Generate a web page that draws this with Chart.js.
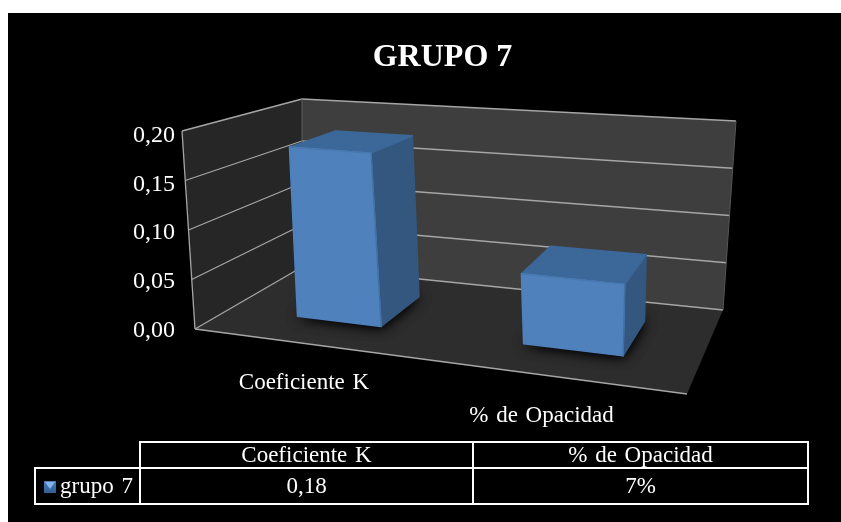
<!DOCTYPE html>
<html><head><meta charset="utf-8">
<style>html,body{margin:0;padding:0;background:#fff;overflow:hidden}canvas{display:block}</style>
<script src="https://cdn.jsdelivr.net/npm/chart.js@4/dist/chart.umd.js"></script>
</head><body><div style="width:841px;height:522px"><canvas id="c" width="841" height="522"></canvas></div>
<script>
const titleText = "GRUPO 7";
const categories = ["Coeficiente K", "% de Opacidad"];
const seriesName = "grupo 7";
const seriesValues = [0.18, 0.07];
const tableValues = ["0,18", "7%"];
const yTicks = [0, 0.05, 0.10, 0.15, 0.20];

const FONT = '"Liberation Serif"';
// perspective box of the 3D chart
const floorQuad = [[195,329],[687,394],[723,310],[302,267]];
const topQuad   = [[182,131],[700,172],[736,121],[302,99]];
const barTopQuad = [[187,135],[706,176],[736,125],[302,103]];
const W_FRONT = 0.30, W_BACK = 0.74, U_SHIFT = 0.012;

function quadMap(q){
  const [[x0,y0],[x1,y1],[x2,y2],[x3,y3]] = q;
  const dx1=x1-x2, dx2=x3-x2, sx=x0-x1+x2-x3, dy1=y1-y2, dy2=y3-y2, sy=y0-y1+y2-y3;
  const den=dx1*dy2-dx2*dy1, g=(sx*dy2-dx2*sy)/den, h=(dx1*sy-sx*dy1)/den;
  const a=x1-x0+g*x1, b=x3-x0+h*x3, d=y1-y0+g*y1, e=y3-y0+h*y3;
  return (u,w)=>{const k=g*u+h*w+1;return [(a*u+b*w+x0)/k,(d*u+e*w+y0)/k];};
}
const mapFloor = quadMap(floorQuad), mapTop = quadMap(topQuad), mapBarTop = quadMap(barTopQuad);
function mix(a,b,v){return [a[0]+(b[0]-a[0])*v,a[1]+(b[1]-a[1])*v];}
function proj(u,v,w){return mix(mapFloor(u,w),mapTop(u,w),v);}
function projBar(u,v,w){return mix(mapFloor(u,w),mapBarTop(u,w),v);}
function poly(ctx,pts,fill){ctx.beginPath();pts.forEach((p,i)=>i?ctx.lineTo(p[0],p[1]):ctx.moveTo(p[0],p[1]));ctx.closePath();if(fill){ctx.fillStyle=fill;ctx.fill();}}
function softPoly(ctx,pts,fill){poly(ctx,pts,fill);ctx.strokeStyle=fill;ctx.lineWidth=1.5;ctx.lineJoin='round';ctx.stroke();}
function seg(ctx,a,b,c,wd){ctx.strokeStyle=c;ctx.lineWidth=wd;ctx.beginPath();ctx.moveTo(a[0],a[1]);ctx.lineTo(b[0],b[1]);ctx.stroke();}

const box3d = {
  id:'box3d',
  beforeDraw(chart){
    const ctx=chart.ctx, yS=chart.scales.y;
    ctx.save();
    ctx.fillStyle='#fff';ctx.fillRect(0,0,841,522);
    ctx.fillStyle='#000';ctx.fillRect(8,13,833,509);
    poly(ctx,[proj(0,0,0),proj(0,0,1),proj(0,1,1),proj(0,1,0)],'#262626');
    poly(ctx,[proj(0,0,1),proj(1,0,1),proj(1,1,1),proj(0,1,1)],'#3e3e3e');
    poly(ctx,[proj(0,0,0),proj(1,0,0),proj(1,0,1),proj(0,0,1)],'#2d2d2d');
    const line='#a6a6a6';
    yS.ticks.forEach(t=>{
      const v=t.value/yS.max;
      seg(ctx,proj(0,v,0),proj(0,v,1),line,1.3);
      seg(ctx,proj(0,v,1),proj(1,v,1),line,1.3);
    });
    seg(ctx,proj(0,0,0),proj(0,1,0),line,1.3);
    seg(ctx,proj(0,1,1),proj(0,0,1),'#5a5a5a',1);
    seg(ctx,proj(1,0,1),proj(1,1,1),'#555',1);
    seg(ctx,proj(0,0,0),proj(1,0,0),line,1.3);
    ctx.restore();
  },
  beforeDatasetsDraw(chart){
    const ctx=chart.ctx, ca=chart.chartArea, meta=chart.getDatasetMeta(0);
    const U=px=>(px-ca.left)/(ca.right-ca.left)+U_SHIFT, V=py=>(ca.bottom-py)/(ca.bottom-ca.top);
    ctx.save();
    meta.data.forEach(b=>{
      const u0=U(b.x-b.width/2),u1=U(b.x+b.width/2),v=V(b.y);
      const fbl=projBar(u0,0,W_FRONT),fbr=projBar(u1,0,W_FRONT),ftl=projBar(u0,v,W_FRONT),ftr=projBar(u1,v,W_FRONT);
      const bbr=projBar(u1,0,W_BACK),btl=projBar(u0,v,W_BACK),btr=projBar(u1,v,W_BACK);
      // soft contact shadow on the floor
      ctx.save();ctx.shadowColor='#000';ctx.shadowBlur=14;
      for(let i=0;i<2;i++) poly(ctx,[fbl,fbr,bbr,[(fbl[0]+bbr[0])/2,(fbl[1]+bbr[1])/2-14]],'#0c0c0c');
      ctx.restore();
      softPoly(ctx,[fbr,bbr,btr,ftr],'#33577f');
      softPoly(ctx,[ftl,ftr,btr,btl],'#3b6899');
      softPoly(ctx,[fbl,fbr,ftr,ftl],'#4f81bd');
      seg(ctx,ftr,fbr,'#41709f',1.2);
      seg(ctx,ftl,ftr,'#4878ae',1.2);
    });
    ctx.restore();
    return false;
  },
  afterDraw(chart){
    const ctx=chart.ctx, ca=chart.chartArea, meta=chart.getDatasetMeta(0);
    ctx.save();
    ctx.fillStyle='#fff';ctx.textBaseline='middle';ctx.textAlign='center';ctx.font='23px '+FONT;
    ctx.wordSpacing='2px';
    meta.data.forEach((b,i)=>{
      const u=(b.x-ca.left)/(ca.right-ca.left)+U_SHIFT;
      const p=proj(u,0,0);
      ctx.fillText(categories[i],p[0]+1-16*u,p[1]+39.5);
    });
    // data table
    const xs=[140,473,808], y0=442,y1=468,y2=504, lx=35;
    ctx.strokeStyle='#fff';ctx.lineWidth=2;
    ctx.strokeRect(xs[0],y0,xs[2]-xs[0],y2-y0);
    seg(ctx,[lx,y1],[xs[2],y1],'#fff',2);
    seg(ctx,[xs[1],y0],[xs[1],y2],'#fff',2);
    ctx.strokeRect(lx,y1,xs[0]-lx,y2-y1);
    ctx.fillStyle='#fff';
    categories.forEach((c,i)=>{
      const m=(xs[i]+xs[i+1])/2;
      ctx.fillText(c,m,455.5);
      ctx.fillText(tableValues[i],m,486.5);
    });
    ctx.textAlign='left';
    ctx.fillText(seriesName,60,486.5);
    const g=ctx.createLinearGradient(0,481,0,493);g.addColorStop(0,'#4a7db8');g.addColorStop(1,'#2f5f95');
    ctx.fillStyle=g;ctx.fillRect(44,481,12,12);
    poly(ctx,[[45,482],[55,482],[50,489]],'#86b4e8');
    ctx.restore();
  }
};

new Chart(document.getElementById('c'),{
  type:'bar',
  data:{labels:categories,datasets:[{label:seriesName,data:seriesValues,backgroundColor:'#4f81bd',barPercentage:0.39,categoryPercentage:1}]},
  plugins:[box3d],
  options:{
    responsive:false,animation:false,
    layout:{padding:{left:44,right:0,top:0,bottom:191}},
    plugins:{
      legend:{display:false},tooltip:{enabled:false},
      title:{display:true,text:titleText,color:'#fff',font:{family:FONT,size:32,weight:'bold',lineHeight:1.2},padding:{top:39,bottom:58}}
    },
    scales:{
      x:{display:false,grid:{display:false}},
      y:{min:0,max:0.2,afterFit(s){s.width=139;},grid:{display:false},border:{display:false},
         afterBuildTicks(s){s.ticks=yTicks.map(v=>({value:v}));},
         ticks:{color:'#fff',padding:0,font:{family:FONT,size:24},callback:v=>v.toFixed(2).replace('.',',')}}
    }
  }
});
</script></body></html>
